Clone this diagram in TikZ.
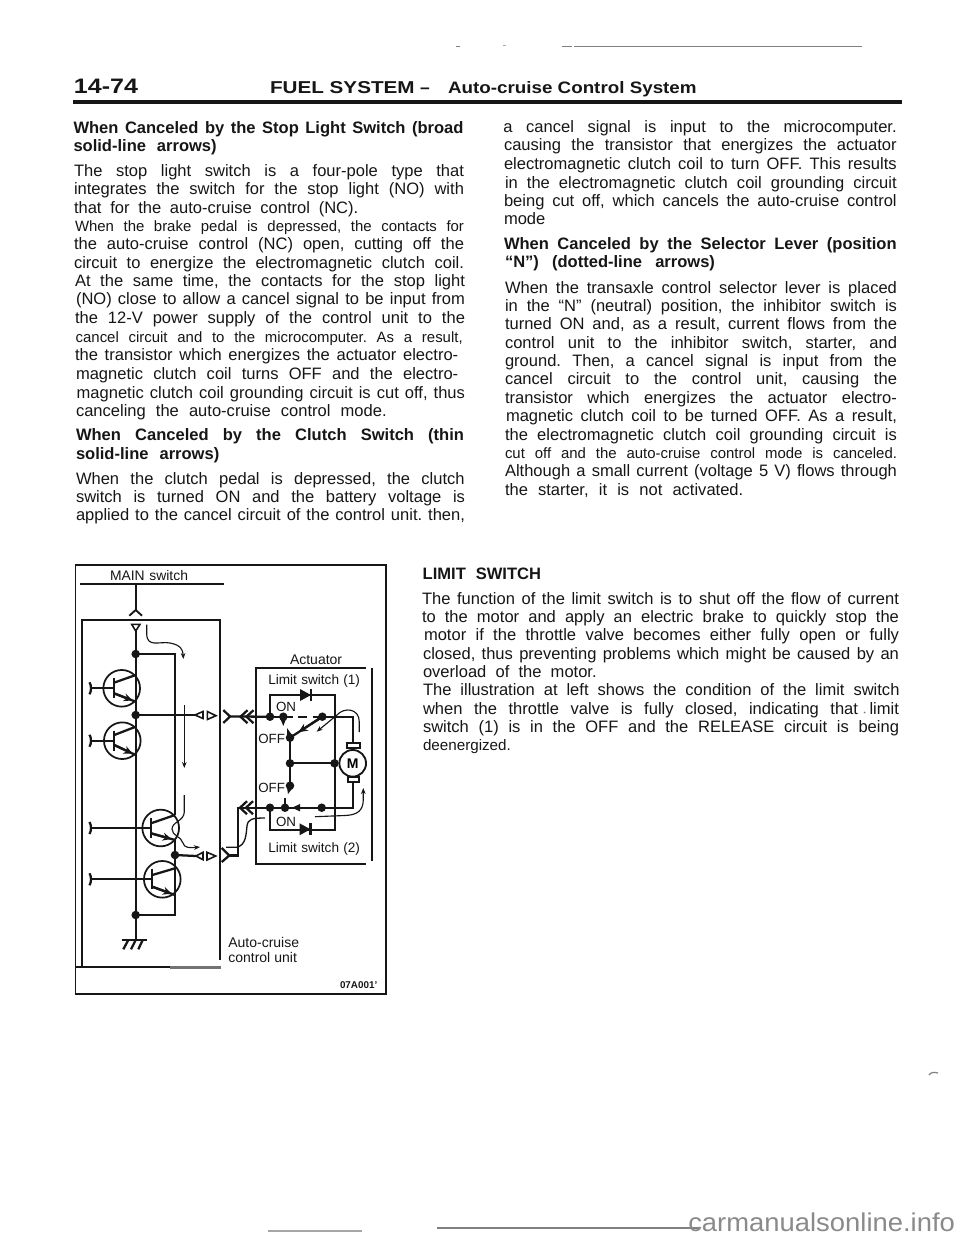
\documentclass[tikz,border=0pt]{standalone}
\usepackage{fontspec}
\usepackage{graphicx}
\setmainfont{Liberation Sans}
\usetikzlibrary{arrows.meta,calc}
\definecolor{ink}{HTML}{161616}
\definecolor{wm}{HTML}{8A8A8A}
\newcommand\bodysz{12.4}
\newcommand\smallsz{11.2}
% one justified line: [size]{name}{x}{baseline}{x end}{text}
\newcommand\jlx[6][\bodysz]{\node[txt] (#2) at (#3,#4) {\fontsize{#1pt}{#1pt}\selectfont\frenchspacing\spaceskip=.25em plus 1fil minus 1fil\relax\hbox to \dimexpr(#5pt*3/4)-(#3pt*3/4)\relax{#6}};}
\newcommand\bl[5]{\jlx{#1}{#2}{#3}{#4}{\bfseries\spaceskip=.25em plus 1fil minus 1fil\relax #5}}
\newcommand\fitb[6]{\node[txt] (#1) at (#2,#3) {\resizebox{#4}{#5}{\bfseries #6}};}
% transistor: name,cx,cy,bar x,rail x,collector y0,y1,emitter y0,y1
\newcommand\qtr[9]{%
  \node[tcirc] (#1) at (#2,#3) {};
  \coordinate (#1b) at (#4,#3);
  \coordinate (#1t) at (90.7,#3);
  \draw[wire] (#1t) -- (#1b);
  \draw[wire] (89.5,#3-6) .. controls (91.5,#3-3) and (91.5,#3+3) .. (89.5,#3+6);
  \draw[wire] ($(#1b)+(0,-10)$) -- ($(#1b)+(0,10)$);
  \draw[wire] (#4,#6) -- (#5,#7);
  \draw[wire] (#4,#8) -- (#5,#9);
  \draw[wire,-{Stealth[length=6.5pt,width=6pt]}] (#4,#8) -- ($(#4,#8)!0.85!(#5,#9)$);
}
\newcommand\diode[3]{%
  \node[inner sep=0pt,minimum size=0pt] (#1) at (#2,#3) {};
  \fill[ink] (#2-6,#3-6) -- (#2+5,#3) -- (#2-6,#3+6) -- cycle;
  \draw[wire] (#2+5,#3-6) -- (#2+5,#3+6);
}
\newcommand\chev[2]{%
  \draw[wire] (#1+7,#2-6.5) -- (#1,#2) -- (#1+7,#2+6.5);
  \draw[wire] (#1+13,#2-6.5) -- (#1+6,#2) -- (#1+13,#2+6.5);
}
\tikzset{
  x=.75pt,y=-.75pt,
  txt/.style={anchor=base west,inner sep=0pt,outer sep=0pt,text=ink,yshift=-.6pt},
  wire/.style={draw=ink,line width=1.7pt},
  thin wire/.style={draw=ink,line width=.8pt},
  fine wire/.style={draw=ink,line width=.85pt,-{Stealth[length=4.5pt,width=3.5pt]}},
  frame/.style={draw=ink,line width=1.4pt},
  dot/.style={circle,fill=ink,inner sep=0pt,minimum size=6.4pt},
  tcirc/.style={circle,draw=ink,line width=1.3pt,minimum size=27.5pt,inner sep=0pt},
  tri/.style={draw=ink,line width=1.2pt,fill=white},
}
\begin{document}
\begin{tikzpicture}
\useasboundingbox (0,0) rectangle (960,1240);
\fill[white] (0,0) rectangle (960,1240);
% top specks and rule
\draw[draw=gray,line width=1pt] (574,46.5) -- (862,46.5);
\fill[gray] (456,45.5) rectangle (460,47);
\fill[gray!70] (503,45) rectangle (506,46);
\fill[gray] (562,46) rectangle (572,47);
% header
\fitb{hnum}{74}{93}{48pt}{10.8pt}{14-74}
\fitb{hfuel}{270}{93}{108.5pt}{9pt}{FUEL SYSTEM}
\node[txt,font=\bfseries\fontsize{13pt}{13pt}\selectfont] (hdash) at (420,93) {–};
\fitb{hauto}{448}{93}{186.5pt}{9pt}{Auto-cruise Control System}
\fill[ink] (73,99.5) rectangle (902,103.5);
% left column
\bl{a1}{73.5}{132.7}{463.5}{When Canceled by the Stop Light Switch (broad}
\bl{a2}{73.5}{150.7}{216.7}{solid-line arrows)}
\jlx{a3}{74}{175.7}{464}{The stop light switch is a four-pole type that}
\jlx{a4}{74}{194}{464}{integrates the switch for the stop light (NO) with}
\jlx{a5}{74}{212.3}{358.3}{that for the auto-cruise control (NC).}
\jlx[\smallsz]{a6}{75}{230.7}{464}{When the brake pedal is depressed, the contacts for}
\jlx{a7}{74}{249}{464}{the auto-cruise control (NC) open, cutting off the}
\jlx{a8}{74}{267.3}{464}{circuit to energize the electromagnetic clutch coil.}
\jlx{a9}{75}{285.7}{465}{At the same time, the contacts for the stop light}
\jlx{a10}{76}{304}{465}{(NO) close to allow a cancel signal to be input from}
\jlx{a11}{75}{322.7}{465}{the 12-V power supply of the control unit to the}
\jlx[\smallsz]{a12}{75.7}{341.7}{462.7}{cancel circuit and to the microcomputer. As a result,}
\jlx{a13}{75}{360}{458.3}{the transistor which energizes the actuator electro-}
\jlx{a14}{76}{378.3}{458.3}{magnetic clutch coil turns OFF and the electro-}
\jlx{a15}{76.7}{397.3}{465}{magnetic clutch coil grounding circuit is cut off, thus}
\jlx{a16}{76}{415.7}{386.7}{canceling the auto-cruise control mode.}
\bl{a17}{76}{440}{464}{When Canceled by the Clutch Switch (thin}
\bl{a18}{76}{458.3}{219.3}{solid-line arrows)}
\jlx{a19}{76}{483.3}{464.7}{When the clutch pedal is depressed, the clutch}
\jlx{a20}{76}{501.7}{465}{switch is turned ON and the battery voltage is}
\jlx{a21}{76}{520}{465}{applied to the cancel circuit of the control unit. then,}
% right column
\jlx{b1}{503.3}{131.7}{896.7}{a cancel signal is input to the microcomputer.}
\jlx{b2}{504}{149.3}{896.7}{causing the transistor that energizes the actuator}
\jlx{b3}{504}{168.3}{896.7}{electromagnetic clutch coil to turn OFF. This results}
\jlx{b4}{505}{187.3}{896.7}{in the electromagnetic clutch coil grounding circuit}
\jlx{b5}{504}{205.7}{896.7}{being cut off, which cancels the auto-cruise control}
\jlx{b6}{504}{224}{546}{mode}
\bl{b7}{504}{248.3}{896.7}{When Canceled by the Selector Lever (position}
\bl{b8}{505}{266.7}{715}{“N”) (dotted-line arrows)}
\jlx{b9}{505}{292.7}{897}{When the transaxle control selector lever is placed}
\jlx{b10}{505}{311}{897}{in the “N” (neutral) position, the inhibitor switch is}
\jlx{b11}{505}{329}{897}{turned ON and, as a result, current flows from the}
\jlx{b12}{505}{347.5}{897}{control unit to the inhibitor switch, starter, and}
\jlx{b13}{505}{365.7}{897}{ground. Then, a cancel signal is input from the}
\jlx{b14}{505}{384}{897}{cancel circuit to the control unit, causing the}
\jlx{b15}{505}{402.7}{897}{transistor which energizes the actuator electro-}
\jlx{b16}{506}{421}{897}{magnetic clutch coil to be turned OFF. As a result,}
\jlx{b17}{505}{439.3}{897}{the electromagnetic clutch coil grounding circuit is}
\jlx[\smallsz]{b18}{505}{457.7}{897}{cut off and the auto-cruise control mode is canceled.}
\jlx{b19}{505}{476}{897}{Although a small current (voltage 5 V) flows through}
\jlx{b20}{505}{495}{743.3}{the starter, it is not activated.}
% limit switch
\bl{c0}{422.7}{578.3}{541}{LIMIT SWITCH}
\jlx{c1}{422}{603.3}{899}{The function of the limit switch is to shut off the flow of current}
\jlx{c2}{422}{621.7}{899}{to the motor and apply an electric brake to quickly stop the}
\jlx{c3}{424}{640}{899}{motor if the throttle valve becomes either fully open or fully}
\jlx{c4}{423}{658.3}{899}{closed, thus preventing problems which might be caused by an}
\jlx{c5}{423}{676.7}{596.7}{overload of the motor.}
\jlx{c6}{423}{695}{899.5}{The illustration at left shows the condition of the limit switch}
\jlx{c7}{423}{713.3}{899}{when the throttle valve is fully closed, indicating that limit}
\jlx{c8}{423}{731.7}{899}{switch (1) is in the OFF and the RELEASE circuit is being}
\jlx[11.4]{c9}{423}{750}{530}{deenergized.}
% diagram frames
\draw[frame] (75.5,565) rectangle (386,994);
\draw[frame] (75.5,967) -- (220,967);
\draw[draw=gray!90!black,line width=2.2pt] (170,967.5) -- (221,967.5);
\draw[frame] (82,967) -- (82,620) -- (220,620) -- (220,960);
\draw[wire] (80,584) -- (224,584);
\coordinate (mainj) at (135.7,584);
\coordinate (ytip) at (135.7,610);
\draw[wire] (mainj) -- (ytip);
\draw[frame] (129.3,615.7) -- (ytip) -- (142,615.7);
% labels
\jlx[10.4]{mainsw}{110}{579.5}{188}{MAIN switch}
\jlx[10.5]{act}{290}{663.5}{342}{Actuator}
\jlx[10.2]{lim1}{268.3}{683.5}{360}{Limit switch (1)}
\jlx[10]{on1}{276}{710.2}{295}{ON}
\jlx[10]{off1}{258.3}{742.8}{284}{OFF}
\jlx[10]{off2}{258.3}{791.2}{284}{OFF}
\jlx[10]{on2}{276}{825.5}{295}{ON}
\jlx[10.2]{lim2}{268.3}{851.2}{360}{Limit switch (2)}
\jlx[10.5]{ac1}{228.3}{946.8}{299}{Auto-cruise}
\jlx[10.5]{ac2}{228.3}{961.2}{297}{control unit}
\node[txt,font=\bfseries\fontsize{7.4pt}{7.4pt}\selectfont] (code) at (340,988) {07A001'};
% actuator box
\draw[frame] (366,667.7) -- (256,667.7) -- (256,864) -- (366,864);
\draw[frame] (372,668) -- (372,860.7);
% junctions
\node[dot] (d1) at (135.7,654) {};
\node[dot] (d2) at (135.7,715) {};
\node[dot] (d3) at (270,716.7) {};
\node[dot] (d4) at (283.3,716.7) {};
\node[dot] (d5) at (322.3,716.7) {};
\node[dot] (d6) at (290,737.7) {};
\node[dot] (d7) at (290,763.3) {};
\node[dot] (d8) at (334.5,763.3) {};
\node[dot] (d9) at (290,785.7) {};
\node[dot] (d10) at (270,807.7) {};
\node[dot] (d11) at (285,807.7) {};
\node[dot] (d12) at (321.7,807.7) {};
\node[dot] (d13) at (175,855) {};
\node[dot] (d14) at (135.7,915) {};
% transistors
\qtr{t1}{121.7}{688.3}{114}{135.7}{682.7}{675}{693.3}{701.7}
\qtr{t2}{122.3}{740.7}{114.3}{135.7}{735}{726.7}{745}{755}
\qtr{t3}{160.7}{828}{151}{175}{823.3}{815}{833.3}{840}
\qtr{t4}{162.3}{879.3}{152.3}{175}{875}{868.3}{886.7}{895}
% power input
\coordinate (tripw) at (135.7,631);
\draw[tri] (131.7,624.3) -- (140,624.3) -- (tripw) -- cycle;
\draw[wire] (tripw) -- (d1.center);
\coordinate (vcc2) at (175,654);
\draw[wire] (d1.center) -- (vcc2) -- (175,815);
\draw[wire] (d1.center) -- (d2.center) -- (d14.center);
\coordinate (gnd) at (135.7,940);
\draw[wire] (d14.center) -- (gnd);
\draw[wire] (121.7,940) -- (147.3,940);
\draw[wire] (123.3,949.3) -- (128.3,940);
\draw[wire] (131,949.3) -- (135.7,940);
\draw[wire] (138.3,949.3) -- (142.7,940);
\draw[wire] (175,840) -- (d13.center) -- (175,915) -- (d14.center);
% upper connector
\coordinate (m1) at (195,715);
\draw[wire] (d2.center) -- (m1);
\draw[tri] (m1) -- (203,711.5) -- (203,718.5) -- cycle;
\draw[tri] (207.3,711.5) -- (216,715.7) -- (207.3,719.5) -- cycle;
\coordinate (y1) at (230,716.5);
\draw[wire] (223.3,710) -- (y1) -- (223.3,723);
\draw[wire] (y1) -- (d3.center);
\chev{240.5}{716.7}
% lower connector
\coordinate (m2) at (196,856);
\draw[wire] (d13.center) -- (m2);
\draw[tri] (m2) -- (203,852.3) -- (203,859.7) -- cycle;
\draw[tri] (207,852.3) -- (215.7,856) -- (207,860) -- cycle;
\coordinate (y2) at (229.3,855.5);
\draw[wire] (221.7,848) -- (y2) -- (221.7,862);
\coordinate (rj) at (238.3,855.5);
\draw[wire] (y2) -- (rj) -- (238.3,807.7) -- (d10.center);
\chev{240}{807.7}
% limit switch (1) network
\diode{di1}{306}{695}
\diode{di2}{305.5}{829.3}
\coordinate (u1) at (270,695);
\coordinate (u2) at (335,695);
\coordinate (l1) at (270,830);
\coordinate (l2) at (335,830);
\draw[wire] (d3.center) -- (u1) -- (u2) -- (l2) -- (l1) -- (d10.center);
\draw[wire] (d3.center) -- (d4.center);
\draw[wire,dash pattern=on 7pt off 4pt] (d4.center) -- (d5.center);
\coordinate (mtop) at (353.3,716.7);
\draw[wire] (d5.center) -- (mtop) -- (353.3,742);
\draw[wire] (d5.center) -- (d6.center);
\draw[wire,-{Stealth[length=7pt,width=6pt]}] (d5.center) -- ($(d5)!.74!(d6)$);
\draw[wire] (d6.center) -- (d7.center) -- (d9.center);
\draw[wire] (d7.center) -- (d8.center);
\fill[ink] (280.5,719) -- (286,719) -- (283.3,726) -- cycle;
\fill[ink] (287,735) -- (287,728) -- (292,735) -- cycle;
\fill[ink] (287,787.5) -- (293,787.5) -- (288,794) -- cycle;
\draw[wire] (285,798) -- (d11.center);
% motor
\draw[frame,fill=white] (346.7,742.7) rectangle (360,748.3);
\draw[frame,fill=white] (348,776.7) rectangle (359,782);
\node[circle,draw=ink,line width=1.4pt,fill=white,minimum size=20pt,inner sep=0pt,font=\bfseries\fontsize{10.5pt}{10.5pt}\selectfont] (mot) at (352.7,763.3) {M};
\draw[wire] (d8.center) -- (mot);
\coordinate (mbot) at (353.3,807.7);
\draw[wire] (353.3,782) -- (mbot) -- (d10.center);
\fill[ink] (292,807.7) -- (300,804) -- (300,811.4) -- cycle;
% fine arrows
\draw[fine wire] (146.7,624.5) -- (146.7,634) .. controls (147,648) and (160,641) .. (170,643) .. controls (181,645) and (183,650) .. (183.3,659);
\draw[fine wire] (184.3,705) -- (184.3,768);
\draw[fine wire] (184.3,795) -- (184.3,812) .. controls (184,821) and (172,822) .. (172,829) .. controls (172,836) and (181,836) .. (183,843) .. controls (184,848) and (190,848) .. (200,847);
\draw[fine wire] (315,816.7) -- (345,815.5) .. controls (357,815) and (363,811) .. (363.3,800) -- (363.3,788);
\draw[fine wire] (359.3,732) -- (359.3,722) .. controls (359.3,708) and (344,707) .. (337,715) -- (316.7,731.7);
\draw[thin wire,line width=1pt] (226,847.3) -- (236.7,847.3) .. controls (246,845) and (246,835) .. (247,826) .. controls (248,819) and (252,818) .. (265,818);
% ink specks and watermark
\fill[gray] (864.6,712.5) circle (.7pt);
\draw[draw=gray,line width=.9pt] (929,1075) .. controls (931,1072) and (934,1072) .. (938,1073);
\draw[draw=gray!70,line width=1.8pt] (268,1231) -- (362,1231);
\draw[draw=gray,line width=.9pt] (437,1228) -- (700,1228);
\node[anchor=base west,inner sep=0pt,text=wm] (wmk) at (688,1231.5) {\resizebox{200pt}{14pt}{carmanualsonline.info}};
\end{tikzpicture}
\end{document}
